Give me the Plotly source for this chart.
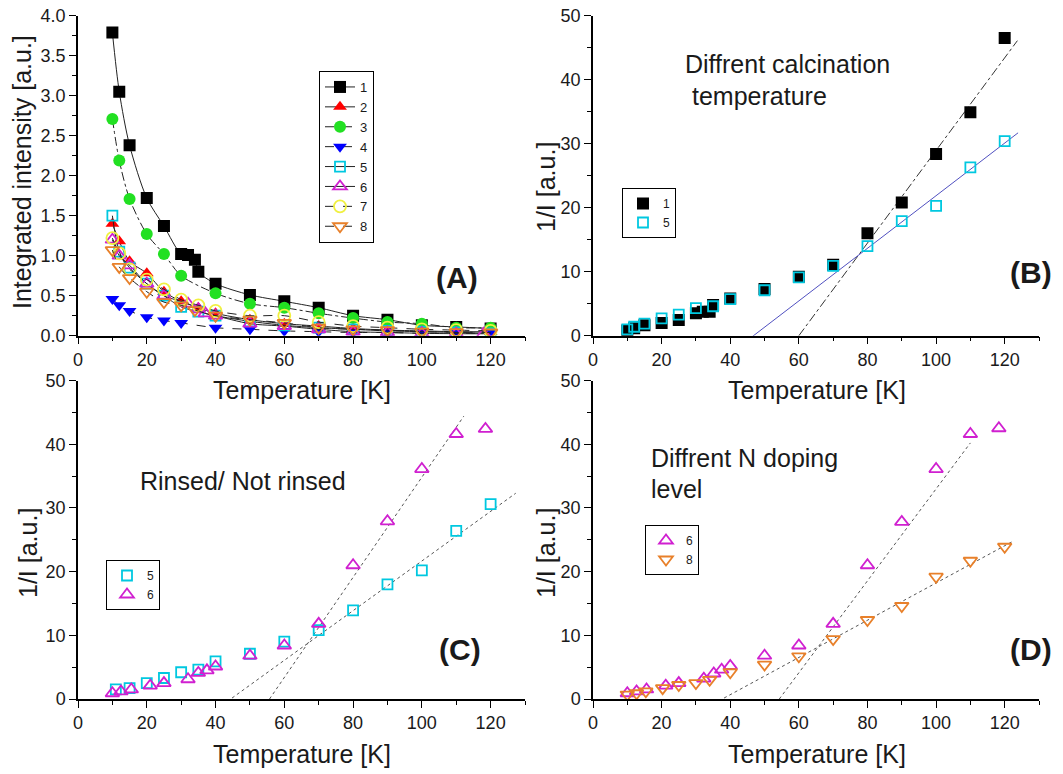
import plotly.graph_objects as go

# ---------------- data ----------------
# Panel A: integrated intensity vs temperature
T1 = [10, 12, 15, 20, 25, 30, 32, 34, 35, 40, 50, 60, 70, 80, 90, 100, 110, 120]
I1 = [3.79, 3.05, 2.38, 1.72, 1.37, 1.02, 1.01, 0.95, 0.80, 0.65, 0.51, 0.43, 0.35, 0.25, 0.20, 0.13, 0.11, 0.09]
T2 = [10, 12, 15, 20, 25, 30, 35, 40, 50, 60, 70, 80, 90, 100, 110, 120]
I2 = [1.40, 1.18, 0.93, 0.78, 0.55, 0.43, 0.35, 0.28, 0.20, 0.15, 0.12, 0.09, 0.07, 0.06, 0.05, 0.05]
T3 = [10, 12, 15, 20, 25, 30, 40, 50, 60, 70, 80, 90, 100, 110, 120]
I3 = [2.71, 2.19, 1.71, 1.27, 1.02, 0.75, 0.53, 0.40, 0.35, 0.28, 0.22, 0.17, 0.15, 0.10, 0.10]
T4 = [10, 12, 15, 20, 25, 30, 40, 50, 60, 70, 80, 90, 100, 110, 120]
I4 = [0.46, 0.38, 0.31, 0.23, 0.19, 0.16, 0.10, 0.08, 0.06, 0.05, 0.04, 0.04, 0.03, 0.03, 0.03]
T5 = [10, 12, 15, 20, 25, 30, 35, 40, 50, 60, 70, 80, 90, 100, 110, 120]
I5 = [1.50, 1.05, 0.85, 0.65, 0.50, 0.36, 0.30, 0.25, 0.18, 0.13, 0.10, 0.08, 0.06, 0.05, 0.04, 0.03]
T6 = [10, 12, 15, 20, 25, 32, 35, 37, 40, 50, 60, 70, 80, 90, 100, 110, 118]
I6 = [1.20, 1.00, 0.88, 0.65, 0.50, 0.40, 0.33, 0.28, 0.25, 0.15, 0.12, 0.08, 0.05, 0.04, 0.03, 0.025, 0.024]
T7 = [10, 12, 15, 20, 25, 30, 35, 40, 50, 60, 70, 80, 90, 100, 110, 120]
I7 = [1.22, 1.03, 0.83, 0.70, 0.58, 0.45, 0.38, 0.31, 0.25, 0.25, 0.17, 0.12, 0.10, 0.08, 0.07, 0.06]
T8 = [10, 12, 15, 20, 25, 30, 34, 40, 50, 60, 70, 80, 90, 100, 110, 120]
I8 = [1.07, 0.86, 0.72, 0.55, 0.42, 0.38, 0.32, 0.25, 0.20, 0.16, 0.10, 0.08, 0.07, 0.05, 0.045, 0.04]

# Panel B: 1/I, samples 1 and 5
TB1 = [10, 12, 15, 20, 25, 30, 32, 34, 35, 40, 50, 60, 70, 80, 90, 100, 110, 120]
RB1 = [0.8, 1.15, 1.65, 2.0, 2.45, 3.5, 3.75, 3.75, 4.8, 5.8, 7.3, 9.2, 11.1, 16.0, 20.8, 28.4, 34.9, 46.5]
TB5 = [10, 12, 15, 20, 25, 30, 35, 40, 50, 60, 70, 80, 90, 100, 110, 120]
RB5 = [1.0, 1.4, 1.9, 2.7, 3.3, 4.3, 4.6, 5.7, 7.1, 9.1, 10.9, 14.0, 17.9, 20.3, 26.3, 30.4]
FIT_B1_X = [60, 123.7]
FIT_B1_Y = [0, 46.1]
FIT_B5_X = [45.8, 123.9]
FIT_B5_Y = [-0.4, 31.7]

# Panel C: 1/I, samples 5 and 6
TC5 = [11, 15, 20, 25, 30, 35, 40, 50, 60, 70, 80, 90, 100, 110, 120]
RC5 = [1.5, 1.7, 2.5, 3.3, 4.2, 4.6, 5.9, 7.1, 9.0, 10.8, 13.9, 18.0, 20.2, 26.4, 30.6]
TC6 = [10, 12.5, 15.5, 21, 25, 32, 35, 37.5, 40, 50, 60, 70, 80, 90, 100, 110, 118.5]
RC6 = [0.9, 1.2, 1.5, 2.1, 2.5, 3.1, 4.1, 4.5, 5.1, 6.8, 8.4, 11.8, 21.0, 27.9, 36.1, 41.6, 42.4]
FIT_C6_X = [55.7, 112.2]
FIT_C6_Y = [0, 44.4]
FIT_C5_X = [44.8, 127.3]
FIT_C5_Y = [0.15, 32.3]

# Panel D: 1/I, samples 6 and 8
TD6 = [10, 12.7, 15.6, 21.2, 25, 32.3, 35.2, 37.5, 40, 50, 60, 70, 80, 90, 100, 110, 118.3]
RD6 = [0.9, 1.2, 1.5, 2.1, 2.5, 3.2, 4.0, 4.6, 5.2, 6.8, 8.4, 11.8, 21.0, 27.8, 36.1, 41.6, 42.5]
TD8 = [10, 12.7, 15.4, 20.3, 25, 30, 34, 40, 50, 60, 70, 80, 90, 100, 110, 120]
RD8 = [0.7, 0.9, 1.2, 1.7, 2.2, 2.5, 3.0, 4.2, 5.4, 6.7, 9.4, 12.4, 14.6, 19.2, 21.7, 23.9]
FIT_D6_X = [54.3, 110]
FIT_D6_Y = [0, 40.2]
FIT_D8_X = [38.2, 122.2]
FIT_D8_Y = [0.15, 24.7]

X_TICKS = [0, 20, 40, 60, 80, 100, 120]

# ---------------- styling ----------------
W, H = 1063, 774
FONT = "Liberation Sans, Arial, sans-serif"
TXT = "#1a1a1a"

COL = {1: "#000000", 2: "#ff0000", 3: "#22e022", 4: "#0000ff",
       5: "#00c8e0", 6: "#d020d0", 7: "#f0f040", 8: "#e8802a"}
SYM = {1: "square", 2: "triangle-up", 3: "circle", 4: "triangle-down",
       5: "square-open", 6: "triangle-up-open", 7: "circle-open", 8: "triangle-down-open"}
DASH = {1: "solid", 2: "solid", 3: "dashdot", 4: "dash",
        5: "solid", 6: "solid", 7: "dash", 8: "dash"}


def px_x(p):
    return p / W


def px_y(p):
    return 1 - p / H


fig = go.Figure()

# Panel A
seriesA = [(1, T1, I1), (2, T2, I2), (3, T3, I3), (4, T4, I4),
           (5, T5, I5), (6, T6, I6), (7, T7, I7), (8, T8, I8)]
for k, t, v in seriesA:
    open_sym = "open" in SYM[k]
    fig.add_trace(go.Scatter(
        x=t, y=v, mode="lines+markers", name=str(k),
        line=dict(color="#222222", width=1, dash=DASH[k], shape="spline", smoothing=0.8),
        marker=dict(symbol=SYM[k], size=12 if k != 5 else 10, color=COL[k],
                    line=dict(color=COL[k], width=1.8 if open_sym else 0)),
        xaxis="x", yaxis="y", legend="legend"))


def add_pts(t, v, k, ax, leg, size=11):
    fig.add_trace(go.Scatter(
        x=t, y=v, mode="markers", name=str(k),
        marker=dict(symbol=SYM[k], size=size, color=COL[k],
                    line=dict(color=COL[k], width=1.8 if "open" in SYM[k] else 0)),
        xaxis="x" + ax, yaxis="y" + ax, legend=leg))


def add_fit(xs, ys, ax, color, dash="dash"):
    fig.add_trace(go.Scatter(
        x=xs, y=ys, mode="lines", showlegend=False, hoverinfo="skip",
        line=dict(color=color, width=1, dash=dash),
        xaxis="x" + ax, yaxis="y" + ax))


# Panel B
add_fit(FIT_B1_X, FIT_B1_Y, "2", "#333333", "dashdot")
add_fit(FIT_B5_X, FIT_B5_Y, "2", "#5050c0", "solid")
add_pts(TB1, RB1, 1, "2", "legend2", 12)
add_pts(TB5, RB5, 5, "2", "legend2", 10)

# Panel C
add_fit(FIT_C6_X, FIT_C6_Y, "3", "#555555", "dot")
add_fit(FIT_C5_X, FIT_C5_Y, "3", "#555555", "dot")
add_pts(TC5, RC5, 5, "3", "legend3", 10)
add_pts(TC6, RC6, 6, "3", "legend3", 12)

# Panel D
add_fit(FIT_D6_X, FIT_D6_Y, "4", "#555555", "dot")
add_fit(FIT_D8_X, FIT_D8_Y, "4", "#555555", "dot")
add_pts(TD6, RD6, 6, "4", "legend4", 12)
add_pts(TD8, RD8, 8, "4", "legend4", 12)

# ---------------- axes ----------------
left_x = (px_x(78), px_x(525))
right_x = (px_x(593), px_x(1039))
top_y = (px_y(335.7), px_y(15.7))
bot_y = (px_y(699), px_y(380.5))


def xax(dom, anchor):
    return dict(domain=dom, anchor=anchor, range=[0, 130], tickvals=X_TICKS,
                automargin=False, ticklabeloverflow="allow",
                showline=True, linecolor="black", linewidth=1.5, mirror=False,
                ticks="outside", ticklen=7, tickwidth=1.3, tickcolor="black",
                minor=dict(dtick=10, tick0=0, ticks="outside", ticklen=4, tickcolor="black", tickwidth=1.2),
                showgrid=False, zeroline=False,
                tickfont=dict(family=FONT, size=18, color=TXT))


def yax(dom, anchor, rng, dtick, mdtick, fmt=None):
    d = dict(domain=dom, anchor=anchor, range=rng, dtick=dtick, tick0=0,
             automargin=False, ticklabeloverflow="allow",
             showline=True, linecolor="black", linewidth=1.5, mirror=False,
             ticks="outside", ticklen=7, tickwidth=1.3, tickcolor="black",
             minor=dict(dtick=mdtick, tick0=0, ticks="outside", ticklen=4, tickcolor="black", tickwidth=1.2),
             showgrid=False, zeroline=False,
             tickfont=dict(family=FONT, size=18, color=TXT))
    if fmt:
        d["tickformat"] = fmt
    return d


legend_common = dict(bgcolor="white", bordercolor="black", borderwidth=1,
                     xanchor="left", yanchor="top", tracegroupgap=0,
                     font=dict(family=FONT, size=12, color=TXT))

annos = []


def txt(x, y, s, size=21, bold=False, xanchor="center", angle=0):
    annos.append(dict(x=px_x(x), y=px_y(y), xref="paper", yref="paper", text=("<b>%s</b>" % s) if bold else s,
                      showarrow=False, xanchor=xanchor, yanchor="middle", textangle=angle,
                      font=dict(family=FONT, size=size, color=TXT)))


# axis titles
txt(302, 390, "Temperature [K]", 25)
txt(817, 390, "Temperature [K]", 25)
txt(302, 754, "Temperature [K]", 25)
txt(817, 754, "Temperature [K]", 25)
txt(22, 172, "Integrated intensity [a.u.]", 25, angle=-90)
txt(546, 187, "1/I [a.u.]", 25, angle=-90)
txt(28, 553, "1/I [a.u.]", 25, angle=-90)
txt(546, 553, "1/I [a.u.]", 25, angle=-90)

# panel labels
txt(457, 277, "(A)", 30, bold=True)
txt(1008, 273, "(B)", 30, bold=True, xanchor="left")
txt(460, 649, "(C)", 30, bold=True)
txt(1008, 649, "(D)", 30, bold=True, xanchor="left")

# in-plot texts
txt(683, 64, "Diffrent calcination", 25, xanchor="left")
txt(690, 96, "temperature", 25, xanchor="left")
txt(243, 481, "Rinsed/ Not rinsed", 25)
txt(649, 458, "Diffrent N doping", 25, xanchor="left")
txt(649, 489, "level", 25, xanchor="left")

fig.update_layout(
    width=W, height=H, margin=dict(l=0, r=0, t=0, b=0, pad=0, autoexpand=False),
    paper_bgcolor="white", plot_bgcolor="white",
    xaxis=xax(left_x, "y"), yaxis=yax(top_y, "x", [0, 4], 0.5, 0.25, ".1f"),
    xaxis2=xax(right_x, "y2"), yaxis2=yax(top_y, "x2", [0, 50], 10, 5),
    xaxis3=xax(left_x, "y3"), yaxis3=yax(bot_y, "x3", [0, 50], 10, 5),
    xaxis4=xax(right_x, "y4"), yaxis4=yax(bot_y, "x4", [0, 50], 10, 5),
    legend=dict(legend_common, x=px_x(319), y=px_y(71), font=dict(family=FONT, size=13, color=TXT), itemwidth=30),
    legend2=dict(legend_common, x=px_x(622), y=px_y(188), itemwidth=30),
    legend3=dict(legend_common, x=px_x(106), y=px_y(560), itemwidth=30),
    legend4=dict(legend_common, x=px_x(645), y=px_y(525), itemwidth=30),
    annotations=annos,
    showlegend=True,
)

# remove the browser's default page margin so the 1063x774 figure fills the window exactly
fig.write_html("out.html", config={"displayModeBar": False},
               post_script="document.body.style.margin='0';document.body.style.overflow='hidden';")
